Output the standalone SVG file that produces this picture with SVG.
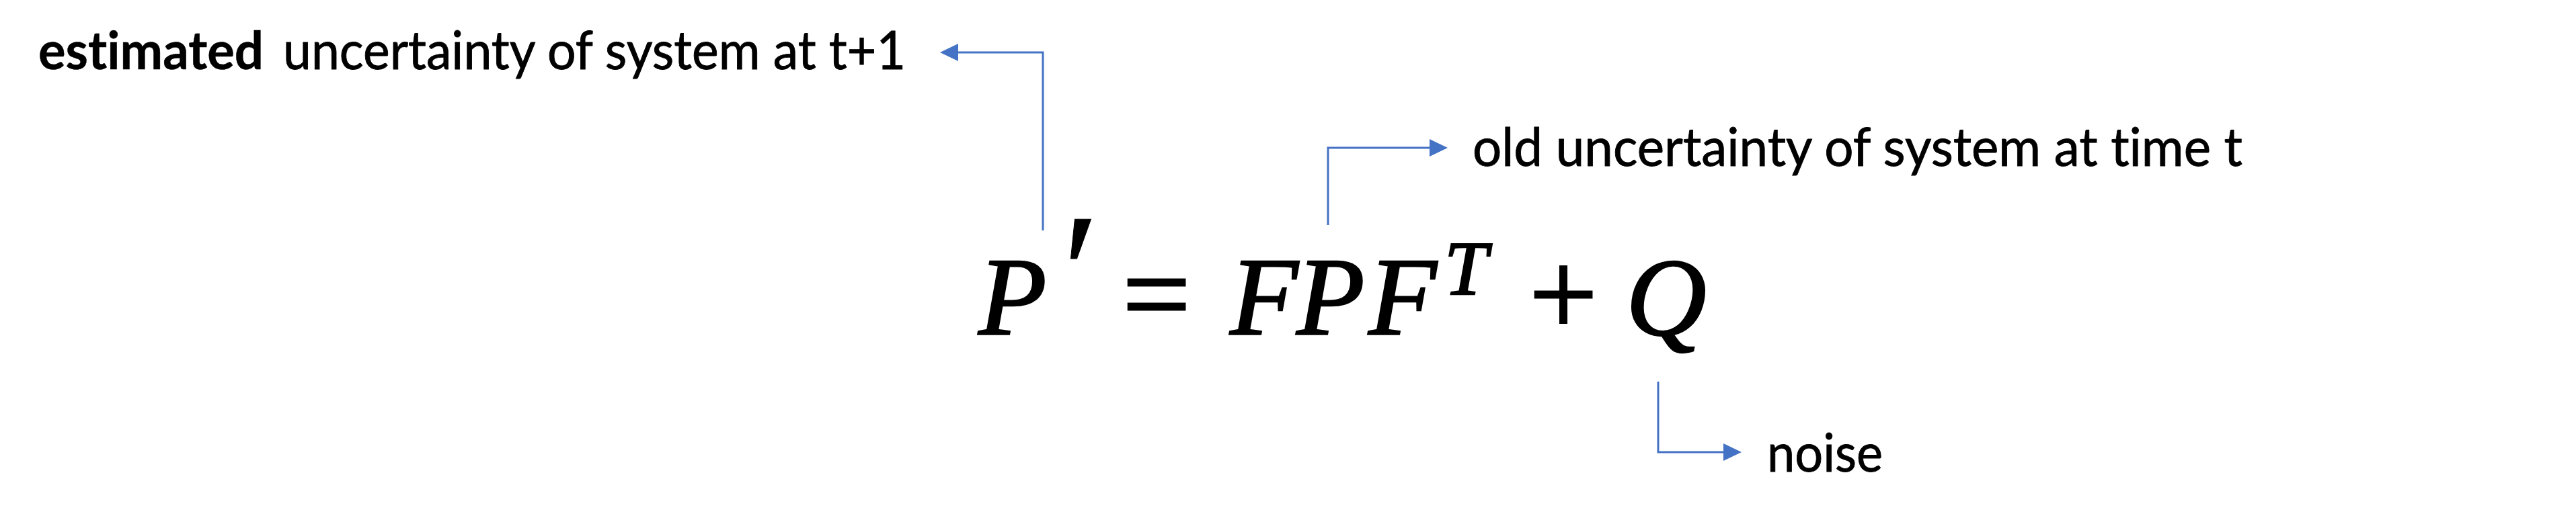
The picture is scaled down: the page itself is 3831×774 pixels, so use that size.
<svg xmlns="http://www.w3.org/2000/svg" width="3831" height="774" viewBox="0 0 3831 774">
  <style>
    .lbl { font-family: Lato, "Liberation Sans", sans-serif; font-size: 79px; fill: #000; stroke: #000; stroke-width: 0.9; font-variant-ligatures: none; font-feature-settings: "liga" 0, "clig" 0; }
    .b { font-weight: bold; stroke-width: 0.5; }
    .m { font-family: "Liberation Serif", "DejaVu Serif", serif; font-style: italic; font-size: 166px; fill: #000; stroke: #000; stroke-width: 2.5; text-anchor: middle; }
    .op { font-family: "Liberation Serif", "DejaVu Serif", serif; font-size: 180px; fill: #000; stroke: #000; stroke-width: 3; text-anchor: middle; }
    .conn { fill: none; stroke: #4472C4; stroke-width: 3; }
  </style>
  <defs>
    <marker id="arr" viewBox="0 0 27 26" markerUnits="userSpaceOnUse" markerWidth="27" markerHeight="26" refX="0" refY="13" orient="auto">
      <path d="M0,0 L27,13 L0,26 z" fill="#4472C4"/>
    </marker>
  </defs>
  <rect width="3831" height="774" fill="#fff"/>

  <g id="connectors">
    <path class="conn" d="M1551,343 V78 H1425" marker-end="url(#arr)"/>
    <path class="conn" d="M1975,335 V220 H2126" marker-end="url(#arr)"/>
    <path class="conn" d="M2466,568 V673 H2563" marker-end="url(#arr)"/>
  </g>

  <g id="label-estimated">
    <text class="lbl b" x="57" y="103" textLength="335" lengthAdjust="spacingAndGlyphs">estimated</text>
    <text class="lbl" x="421" y="103" textLength="926" lengthAdjust="spacingAndGlyphs">uncertainty of system at t+1</text>
  </g>

  <g id="label-old">
    <text class="lbl" x="2190" y="247" textLength="1145" lengthAdjust="spacingAndGlyphs">old uncertainty of system at time t</text>
  </g>

  <g id="label-noise">
    <text class="lbl" x="2628" y="702" textLength="172" lengthAdjust="spacingAndGlyphs">noise</text>
  </g>

  <g id="equation">
    <text class="m" x="1506" y="498">P</text>
    <text class="m" x="1592" y="490" style="font-size:250px;stroke-width:1">′</text>
    <text class="op" x="1720" y="498">=</text>
    <text class="m" x="1880" y="498">F</text>
    <text class="m" x="1979" y="498">P</text>
    <text class="m" x="2086" y="498">F</text>
    <text class="m" x="2180" y="438" style="font-size:115px">T</text>
    <text class="op" x="2325" y="498">+</text>
    <text class="m" x="2478" y="498">Q</text>
  </g>
</svg>
